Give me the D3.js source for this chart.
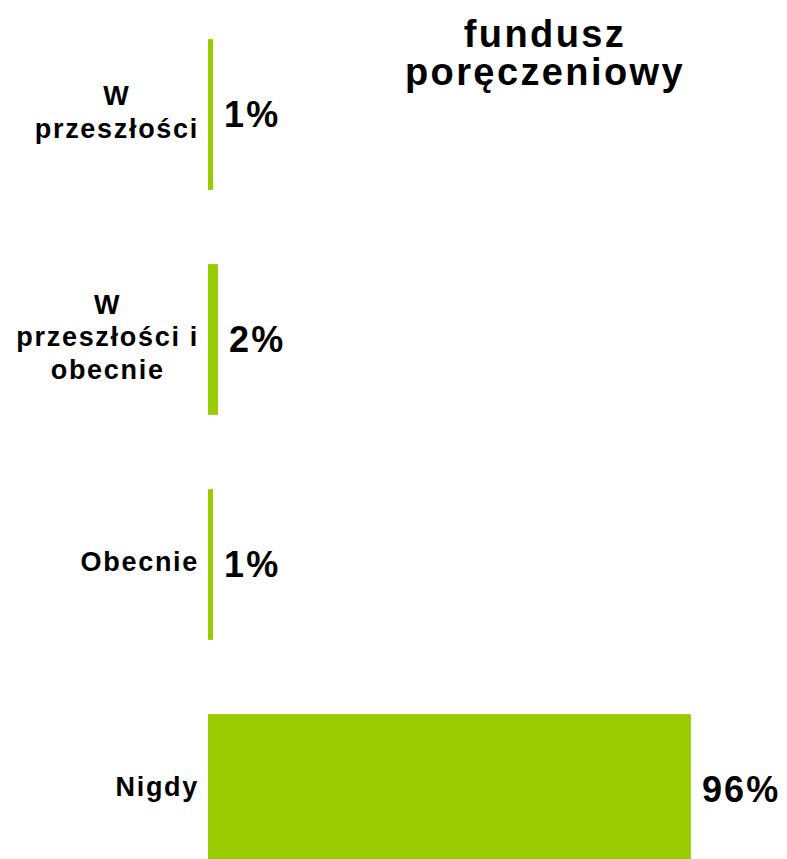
<!DOCTYPE html>
<html>
<head>
<meta charset="utf-8">
<script src="https://cdn.jsdelivr.net/npm/d3@7"></script>
<style>
  body { margin: 0; background: #fff; }
  text { font-family: "Liberation Sans", Arial, sans-serif; font-weight: bold; fill: #000; }
</style>
</head>
<body>
<svg id="chart" width="787" height="859"></svg>
<script>
const categories = [
  ["W", "przeszłości"],
  ["W", "przeszłości i", "obecnie"],
  ["Obecnie"],
  ["Nigdy"]
];
const values = [1, 2, 1, 96];
const titleLines = ["fundusz", "poręczeniowy"];

const GREEN = "#99cc00";

const svg = d3.select("#chart");

const y = d3.scaleBand()
  .domain(d3.range(categories.length))
  .range([2, 902])
  .paddingInner(0.33)
  .paddingOuter(0.165);

const x = d3.scaleLinear()
  .domain([0, 100])
  .range([208, 711]);

// bars
svg.append("g")
  .selectAll("rect")
  .data(values)
  .join("rect")
  .attr("x", x(0))
  .attr("y", (d, i) => y(i))
  .attr("width", (d) => x(d) - x(0))
  .attr("height", y.bandwidth())
  .attr("fill", GREEN);

// value labels
svg.append("g")
  .selectAll("text")
  .data(values)
  .join("text")
  .attr("x", (d) => x(d) + 11)
  .attr("y", (d, i) => y(i) + y.bandwidth() / 2)
  .attr("dy", "0.35em")
  .style("font-size", "36px")
  .style("letter-spacing", "2.2px")
  .text((d) => d + "%");

// category labels: lines centred, block right-aligned
const lineH = 32.5;
const labelRight = 199;
categories.forEach((lines, i) => {
  const g = svg.append("g");
  const cy = y(i) + y.bandwidth() / 2;
  const top = cy - ((lines.length - 1) * lineH) / 2;
  const t = g.selectAll("text")
    .data(lines)
    .join("text")
    .attr("y", (d, j) => top + j * lineH)
    .attr("dy", "0.25em")
    .attr("text-anchor", "middle")
    .style("font-size", "27px")
    .style("letter-spacing", "1.7px")
    .text((d) => d);
  let w = 0;
  t.each(function () { w = Math.max(w, this.getComputedTextLength()); });
  t.attr("x", labelRight - w / 2);
});

// title
svg.append("g")
  .selectAll("text")
  .data(titleLines)
  .join("text")
  .attr("x", 545)
  .attr("y", (d, i) => 47 + i * 38)
  .attr("text-anchor", "middle")
  .style("font-size", "38px")
  .style("letter-spacing", "2.4px")
  .text((d) => d);
</script>
</body>
</html>
